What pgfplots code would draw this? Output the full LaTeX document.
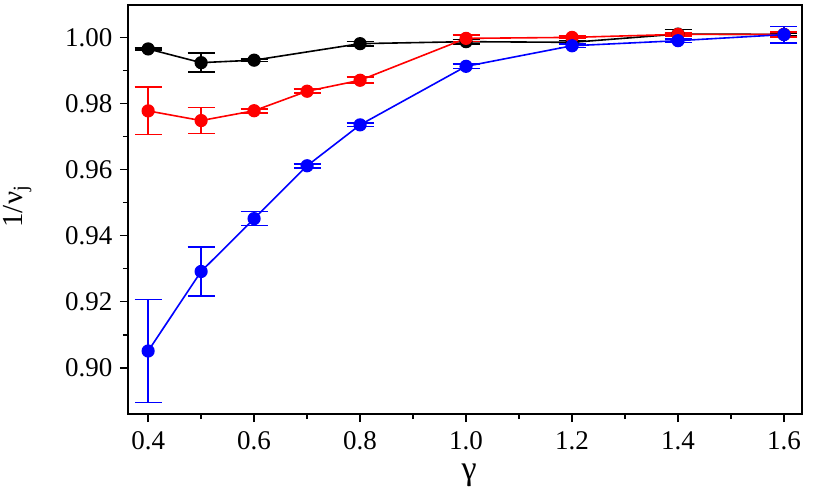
\documentclass[border=0pt]{standalone}
\usepackage{pgfplots}
\pgfplotsset{compat=1.18}
\usepackage{fontspec}
\setmainfont{Liberation Serif}
\pgfplotstableread{
x y e
0.4 0.99650 0.0003
0.5 0.99235 0.0029
0.6 0.99310 0.0004
0.8 0.99810 0.0007
1.0 0.99870 0.0007
1.2 0.99850 0.0005
1.4 1.00100 0.0014
1.6 1.00090 0.0005
}\blackdata
\pgfplotstableread{
x y e
0.4 0.97775 0.0072
0.5 0.97482 0.0039
0.6 0.97780 0.0006
0.7 0.98370 0.0006
0.8 0.98702 0.0009
1.0 0.99970 0.0010
1.2 1.00000 0.0004
1.4 1.00090 0.0005
1.6 1.00090 0.0008
}\reddata
\pgfplotstableread{
x y e
0.4 0.90507 0.0156
0.5 0.92914 0.0074
0.6 0.94514 0.0021
0.7 0.96114 0.0006
0.8 0.97352 0.0005
1.0 0.99124 0.0007
1.2 0.99746 0.0005
1.4 0.99900 0.0005
1.6 1.00085 0.0025
}\bluedata
\begin{document}
\begin{tikzpicture}
\begin{axis}[
  scale only axis,
  width=674pt, height=409pt,
  xmin=0.362, xmax=1.634,
  ymin=0.886, ymax=1.0098,
  xtick={0.4,0.6,...,1.6},
  ytick={0.90,0.92,...,1.00},
  minor x tick num=1, minor y tick num=1,
  xtick pos=left, ytick pos=left,
  tick align=outside,
  major tick length=8pt, minor tick length=5pt,
  every tick/.style={line width=1.6pt, black},
  axis line style={line width=2pt},
  /pgf/number format/assume math mode=true,
  xticklabel style={yshift=-6pt, /pgf/number format/.cd, fixed, fixed zerofill, precision=1},
  yticklabel style={xshift=-4pt, /pgf/number format/.cd, fixed, fixed zerofill, precision=2},
  tick label style={font=\fontsize{27}{32}\selectfont},
  xlabel={γ},
  ylabel={1/ν\textsubscript{j}},
  xlabel style={at={(axis description cs:0.506,-0.121)}, anchor=north, inner sep=0pt,
    font=\fontsize{34}{40}\selectfont},
  ylabel style={at={(axis description cs:-0.1855,0.507)}, anchor=north, inner sep=0pt,
    font=\fontsize{29}{34}\selectfont},
  mystyle/.style={line width=1.6pt, mark=*, mark size=5.8pt, #1, mark options={fill=#1, solid},
    error bars/y dir=both, error bars/y explicit,
    error bars/error bar style={line width=1.6pt, #1},
    error bars/error mark options={mark size=13.5pt, line width=1.6pt, #1, rotate=90}},
]
\addplot[mystyle=black] table[x=x, y=y, y error=e] {\blackdata};
\addplot[mystyle=red] table[x=x, y=y, y error=e] {\reddata};
\addplot[mystyle=blue] table[x=x, y=y, y error=e] {\bluedata};
\end{axis}
\pgfresetboundingbox
\path ([shift={(-128pt,-77pt)}]current axis.south west) rectangle ([shift={(12pt,5pt)}]current axis.north east);
\end{tikzpicture}
\end{document}
